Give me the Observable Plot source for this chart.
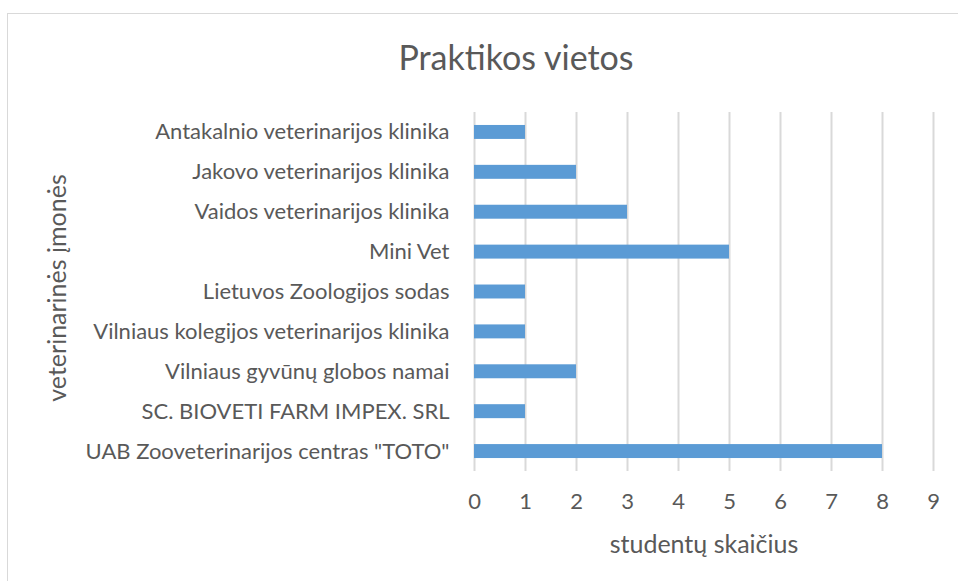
<!DOCTYPE html>
<html>
<head>
<meta charset="utf-8">
<script src="https://cdn.jsdelivr.net/npm/d3@7"></script>
<script src="https://cdn.jsdelivr.net/npm/@observablehq/plot@0.6"></script>
<style>
  html, body { margin: 0; padding: 0; background: #fff; }
  #wrap { position: relative; width: 958px; height: 581px; overflow: hidden; }
  #border { position: absolute; left: 7px; top: 13px; width: 1200px; height: 800px; border-left: 1px solid #D9D9D9; border-top: 1px solid #D9D9D9; }
  #chart { position: absolute; left: 0; top: 0; }
</style>
</head>
<body>
<div id="wrap"><div id="border"></div><div id="chart"></div></div>
<script>
const categories = [
  "Antakalnio veterinarijos klinika",
  "Jakovo veterinarijos klinika",
  "Vaidos veterinarijos klinika",
  "Mini Vet",
  "Lietuvos Zoologijos sodas",
  "Vilniaus kolegijos veterinarijos klinika",
  "Vilniaus gyvūnų globos namai",
  "SC. BIOVETI FARM IMPEX. SRL",
  "UAB Zooveterinarijos centras \"TOTO\""
];
const values = [1, 2, 3, 5, 1, 1, 2, 1, 8];
const xTicks = [0, 1, 2, 3, 4, 5, 6, 7, 8, 9];
const title = "Praktikos vietos";
const xLabel = "studentų skaičius";
const yLabel = "veterinarinės įmonės";

const data = categories.map((c, i) => ({category: c, value: values[i]}));
const font = "Lato, 'Open Sans', sans-serif";
const textColor = "#595959";

const chart = Plot.plot({
  width: 958,
  height: 581,
  marginLeft: 474,
  marginRight: 25,
  marginTop: 112,
  marginBottom: 110,
  style: {fontFamily: font, color: textColor, background: "transparent", overflow: "visible"},
  x: {domain: [0, 9], ticks: xTicks},
  y: {domain: categories, paddingInner: 0.65, paddingOuter: 0.325, align: 0.5, round: false},
  marks: [
    Plot.gridX(xTicks, {stroke: "#D9D9D9", strokeOpacity: 1, strokeWidth: 2}),
    Plot.barX(data, {x: "value", y: "category", fill: "#5B9BD5"}),
    Plot.axisX({ticks: xTicks, tickSize: 0, tickPadding: 22, fontSize: 22, label: null, fill: textColor}),
    Plot.axisY({tickSize: 0, tickPadding: 25, fontSize: 22, label: null, fill: textColor}),
    Plot.text([title], {frameAnchor: "top", textAnchor: "middle", lineAnchor: "middle", dx: -188, dy: -53, fontSize: 34, fill: textColor, fontFamily: font}),
    Plot.text([xLabel], {frameAnchor: "bottom", textAnchor: "middle", lineAnchor: "middle", dy: 73, fontSize: 25, fill: textColor, fontFamily: font}),
    Plot.text([yLabel], {frameAnchor: "left", textAnchor: "middle", lineAnchor: "middle", dx: -417, dy: -4, rotate: -90, fontSize: 25, fill: textColor, fontFamily: font})
  ]
});
document.getElementById("chart").appendChild(chart);
</script>
</body>
</html>
